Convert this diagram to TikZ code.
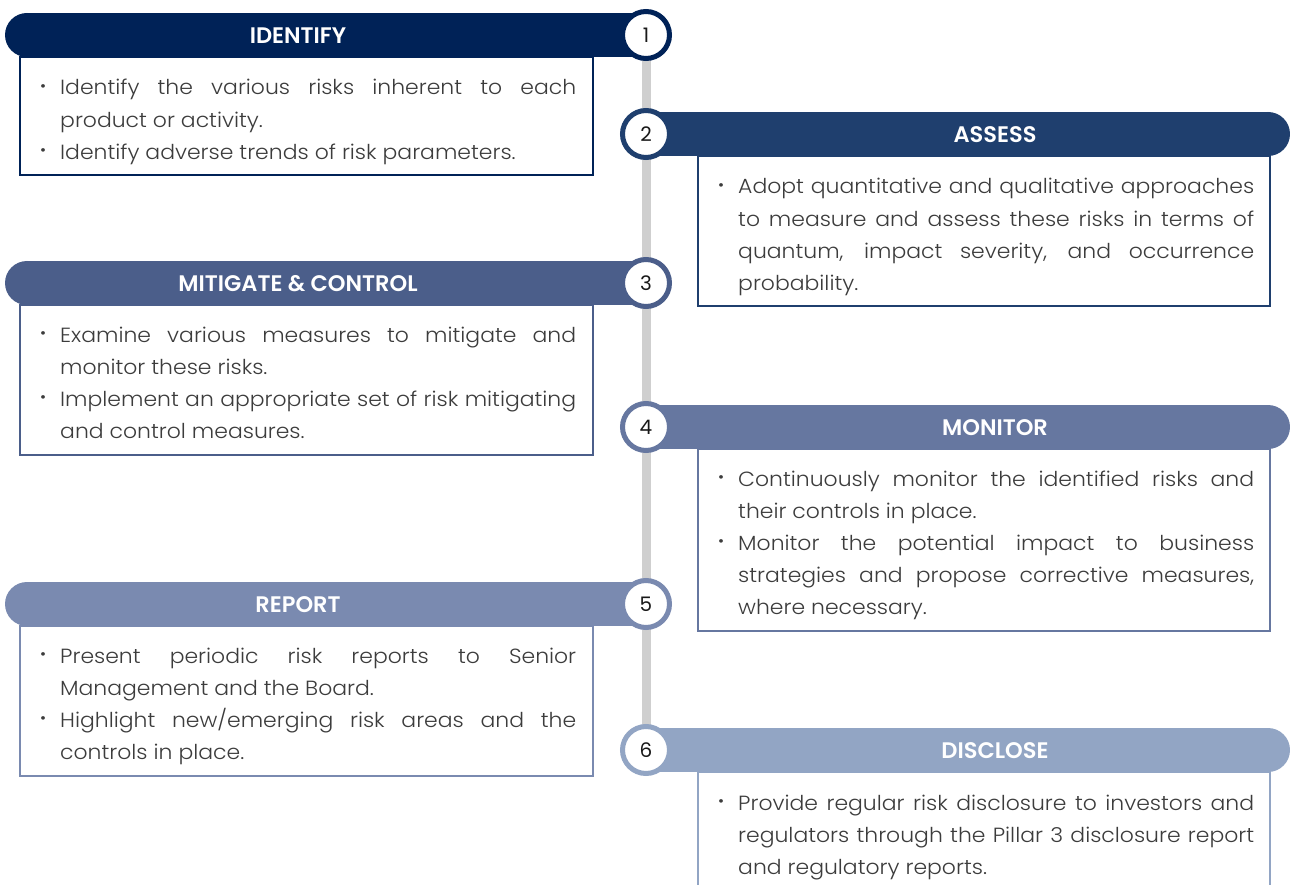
\documentclass[tikz,border=0pt]{standalone}
\usepackage{fontspec}
\setmainfont{Poppins}[UprightFont=* Light, BoldFont=* SemiBold, FakeStretch=1.07]
\newfontfamily\numfont{Poppins}
\newfontfamily\headfont{Poppins SemiBold}
\definecolor{cA}{HTML}{002257}
\definecolor{cB}{HTML}{1F3F6E}
\definecolor{cC}{HTML}{4B5E8A}
\definecolor{cD}{HTML}{6677A0}
\definecolor{cE}{HTML}{7A8AB0}
\definecolor{cF}{HTML}{92A5C4}
\definecolor{spine}{HTML}{CFCFCF}
\definecolor{bodytxt}{HTML}{3C3C3C}
\tolerance=10000
\emergencystretch=20pt
\newcommand{\bit}[1]{\noindent\hangindent=20pt\hangafter=1\makebox[20pt][l]{\raisebox{0.17em}{\scalebox{0.75}{\textbullet}}}#1\par}
\tikzset{
  numcirc/.style={circle, draw=#1, line width=5pt, fill=white, minimum size=47pt, inner sep=0pt, font=\numfont\fontsize{20}{20}\selectfont, text=black!90},
  boxline/.style={draw=#1, line width=2pt, fill=white},
  headtxt/.style={font=\headfont\fontsize{22.5}{23}\selectfont, text=white},
  bodytext/.style={anchor=base west, inner sep=0pt, text width=536pt, align=justify, text=bodytxt,
    font=\fontsize{20.5}{32.2}\selectfont}
}
\begin{document}
\begin{tikzpicture}[x=1pt,y=-1pt]
\useasboundingbox (0,0) rectangle (1290,885);
\coordinate (p1) at (646,35);
\coordinate (p6) at (646,750);
\draw[spine, line width=9pt] (p1) -- (p6);

% 1 IDENTIFY
\draw[boxline=cA] (20,57) rectangle (593,175);
\fill[cA] (27,35) circle (22pt);
\fill[cA] (27,13) rectangle (646,57);
\node[headtxt] (h1) at (298,36) {IDENTIFY};
\node[numcirc=cA] (n1) at (p1) {1};
\node[bodytext] (t1) at (40,95) {%
\bit{Identify the various risks inherent to each\linebreak product or activity.}%
\bit{Identify adverse trends of risk parameters.}};

% 2 ASSESS
\draw[boxline=cB] (698,156) rectangle (1270,306);
\fill[cB] (1268,134) circle (22pt);
\fill[cB] (646,112) rectangle (1268,156);
\node[headtxt] (h2) at (995,135) {ASSESS};
\node[numcirc=cB] (n2) at (646,134) {2};
\node[bodytext] (t2) at (718,194) {%
\bit{Adopt quantitative and qualitative approaches\linebreak to measure and assess these risks in terms of\linebreak quantum, impact severity, and occurrence\linebreak probability.}};

% 3 MITIGATE
\draw[boxline=cC] (20,305) rectangle (593,455);
\fill[cC] (27,283) circle (22pt);
\fill[cC] (27,261) rectangle (646,305);
\node[headtxt] (h3) at (298,284) {MITIGATE \& CONTROL};
\node[numcirc=cC] (n3) at (646,283) {3};
\node[bodytext] (t3) at (40,342) {%
\bit{Examine various measures to mitigate and\linebreak monitor these risks.}%
\bit{Implement an appropriate set of risk mitigating\linebreak and control measures.}};

% 4 MONITOR
\draw[boxline=cD] (698,449) rectangle (1270,631);
\fill[cD] (1268,427) circle (22pt);
\fill[cD] (646,405) rectangle (1268,449);
\node[headtxt] (h4) at (995,428) {MONITOR};
\node[numcirc=cD] (n4) at (646,427) {4};
\node[bodytext] (t4) at (718,486) {%
\bit{Continuously monitor the identified risks and\linebreak their controls in place.}%
\bit{Monitor the potential impact to business\linebreak strategies and propose corrective measures,\linebreak where necessary.}};

% 5 REPORT
\draw[boxline=cE] (20,626) rectangle (593,776);
\fill[cE] (27,604) circle (22pt);
\fill[cE] (27,582) rectangle (646,626);
\node[headtxt] (h5) at (298,605) {REPORT};
\node[numcirc=cE] (n5) at (646,604) {5};
\node[bodytext] (t5) at (40,663) {%
\bit{Present periodic risk reports to Senior\linebreak Management and the Board.}%
\bit{Highlight new/emerging risk areas and the\linebreak controls in place.}};

% 6 DISCLOSE
\draw[cF, line width=2pt, fill=white] (698,890) -- (698,772) -- (1270,772) -- (1270,890);
\fill[cF] (1268,750) circle (22pt);
\fill[cF] (646,728) rectangle (1268,772);
\node[headtxt] (h6) at (995,751) {DISCLOSE};
\node[numcirc=cF] (n6) at (p6) {6};
\node[bodytext] (t6) at (718,810) {%
\bit{Provide regular risk disclosure to investors and\linebreak regulators through the Pillar 3 disclosure report\linebreak and regulatory reports.}};
\end{tikzpicture}
\end{document}
